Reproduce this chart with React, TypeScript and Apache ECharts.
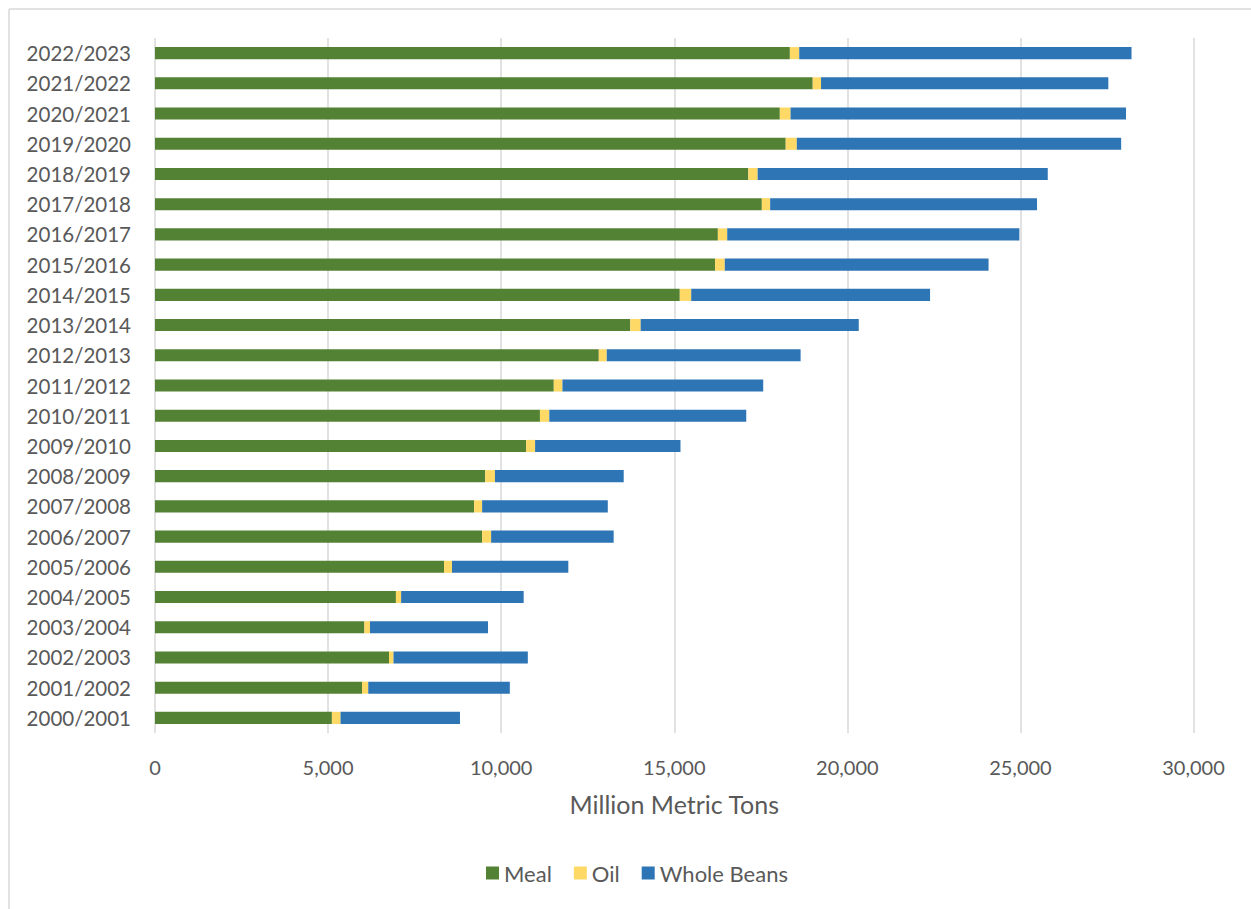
import React, { useEffect, useRef } from "react";
import * as echarts from "echarts";

const categories = [
  "2000/2001", "2001/2002", "2002/2003", "2003/2004", "2004/2005", "2005/2006",
  "2006/2007", "2007/2008", "2008/2009", "2009/2010", "2010/2011", "2011/2012",
  "2012/2013", "2013/2014", "2014/2015", "2015/2016", "2016/2017", "2017/2018",
  "2018/2019", "2019/2020", "2020/2021", "2021/2022", "2022/2023",
];
const meal = [5110, 5980, 6760, 6050, 6960, 8350, 9450, 9220, 9540, 10720, 11120, 11520,
  12820, 13730, 15160, 16180, 16260, 17530, 17140, 18220, 18050, 19000, 18340];
const oil = [250, 180, 130, 160, 150, 230, 260, 230, 280, 260, 270, 250,
  230, 300, 330, 280, 270, 240, 270, 320, 310, 240, 270];
const wholeBeans = [3450, 4090, 3880, 3410, 3540, 3360, 3540, 3630, 3720, 4200, 5690, 5800,
  5600, 6300, 6900, 7620, 8440, 7710, 8380, 9370, 9690, 8300, 9600];

const FONT = "Lato, 'Open Sans', sans-serif";
const TEXT = "#595959";

export default function App() {
  const ref = useRef<HTMLDivElement>(null);
  useEffect(() => {
    if (!ref.current) return;
    const chart = echarts.init(ref.current, null, { renderer: "svg" });
    const mk = (name: string, data: number[], color: string) => ({
      name,
      type: "bar",
      stack: "total",
      data,
      barWidth: "40%",
      itemStyle: { color },
    });
    chart.setOption({
      animation: false,
      backgroundColor: "#ffffff",
      textStyle: { fontFamily: FONT },
      grid: { left: 155, right: 57.5, top: 38, bottom: 176, containLabel: false },
      xAxis: {
        type: "value",
        min: 0,
        max: 30000,
        interval: 5000,
        axisLine: { show: false },
        axisTick: { show: false },
        splitLine: { show: true, lineStyle: { color: "#d9d9d9", width: 1.5 } },
        axisLabel: {
          color: TEXT,
          fontSize: 20,
          fontFamily: FONT,
          margin: 24,
          formatter: (v: number) => v.toLocaleString("en-US"),
        },
        name: "Million Metric Tons",
        nameLocation: "middle",
        nameGap: 58,
        nameTextStyle: { color: TEXT, fontSize: 25, fontFamily: FONT },
      },
      yAxis: {
        type: "category",
        data: categories,
        axisLine: { show: false },
        axisTick: { show: false },
        axisLabel: { color: TEXT, fontSize: 20.5, fontFamily: FONT, margin: 24 },
      },
      legend: {
        data: ["Meal", "Oil", "Whole Beans"],
        bottom: 20,
        left: 481,
        icon: "rect",
        itemWidth: 13,
        itemHeight: 13,
        itemGap: 22,
        textStyle: { color: TEXT, fontSize: 22, fontFamily: FONT },
      },
      graphic: [
        { type: "line", shape: { x1: 9, y1: 9, x2: 1251, y2: 9 }, style: { stroke: "#d9d9d9", lineWidth: 1.5 } },
        { type: "line", shape: { x1: 9, y1: 9, x2: 9, y2: 909 }, style: { stroke: "#d9d9d9", lineWidth: 1.5 } },
      ],
      series: [
        mk("Meal", meal, "#548235"),
        mk("Oil", oil, "#FFD966"),
        mk("Whole Beans", wholeBeans, "#2E75B6"),
      ],
    });
    return () => chart.dispose();
  }, []);
  return (
    <div
      ref={ref}
      style={{ position: "absolute", left: 0, top: 0, width: 1251, height: 909 }}
    />
  );
}
